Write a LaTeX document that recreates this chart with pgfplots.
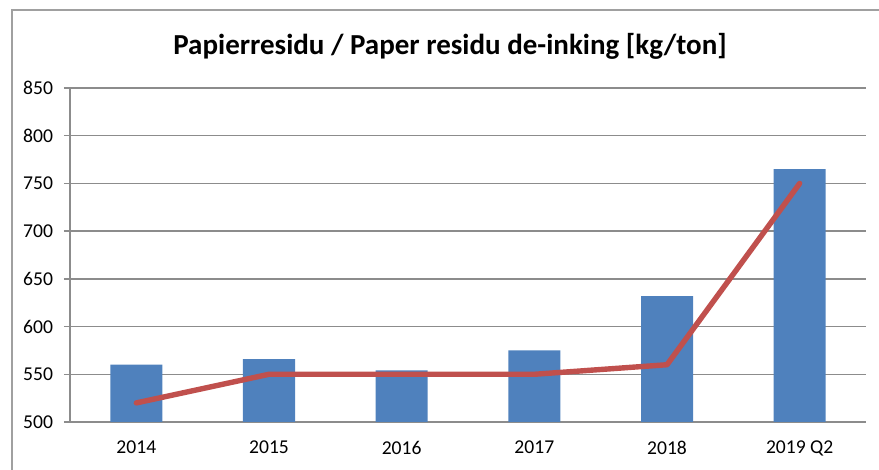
\documentclass[border=0pt]{standalone}
\usepackage{fontspec}
\setmainfont{Carlito}
\usepackage{pgfplots}
\pgfplotsset{compat=1.18}
\definecolor{barblue}{HTML}{4F81BD}
\definecolor{linered}{HTML}{C0504D}
\definecolor{gridgray}{HTML}{8C8C8C}
\definecolor{framegray}{HTML}{A0A0A0}

\begin{document}
\begin{tikzpicture}
% picture box: 1px = 0.5pt
\path[use as bounding box] (0,0) rectangle (439.5pt,235pt);
\draw[framegray, line width=0.8pt] (6pt,0) -- (6pt,230pt) -- (439.5pt,230pt);
\node[font=\fontsize{14.5}{16}\selectfont\bfseries] at (225pt,212pt)
  {Papierresidu / Paper residu de-inking [kg/ton]};
\begin{axis}[
  at={(35pt,24pt)}, anchor=south west,
  scale only axis, width=398pt, height=167pt,
  xmin=-0.5, xmax=5.5,
  ymin=500, ymax=850,
  ytick={500,550,...,850},
  xtick={0,1,2,3,4,5},
  xticklabels={2014,2015,2016,2017,2018,2019 Q2},
  axis line style={gridgray, line width=0.7pt},
  axis x line*=bottom, axis y line*=left,
  ymajorgrids, grid style={gridgray, line width=0.7pt},
  major tick length=3pt,
  xtick style={draw=none},
  ytick style={gridgray, line width=0.7pt},
  tick align=outside,
  font=\fontsize{9.8}{11}\selectfont,
  /pgf/number format/assume math mode=true,
  yticklabel style={xshift=-2pt},
  xticklabel style={yshift=-3pt},
  clip=false,
]
\addplot[ybar, bar width=26pt, fill=barblue, draw=none] coordinates {
  (0,560) (1,566) (2,554) (3,575) (4,632) (5,765)
};
\addplot[linered, line width=2.7pt, line cap=round, line join=round] coordinates {
  (0,520) (1,550) (2,550) (3,550) (4,560) (5,750)
};
\end{axis}
\end{tikzpicture}
\end{document}
